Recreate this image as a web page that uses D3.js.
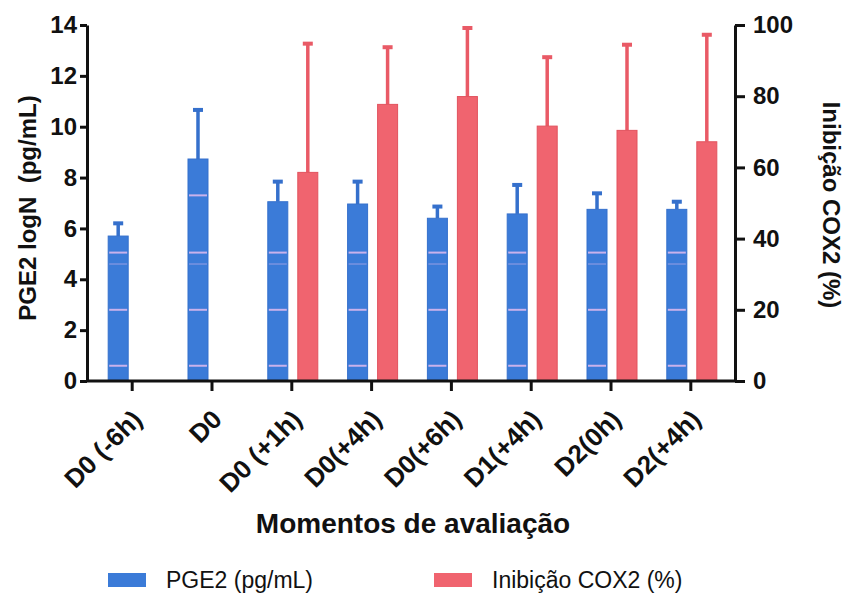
<!DOCTYPE html>
<html>
<head>
<meta charset="utf-8">
<script src="https://cdn.jsdelivr.net/npm/d3@7"></script>
<style>
  body { margin: 0; background: #fff; }
  text { font-family: "Liberation Sans", Arial, Helvetica, sans-serif; fill: #111; white-space: pre; }
</style>
</head>
<body>
<div id="chart"></div>
<script>
// data
const moments = ["D0 (-6h)", "D0", "D0 (+1h)", "D0(+4h)", "D0(+6h)", "D1(+4h)", "D2(0h)", "D2(+4h)"]
const pge2Mean = [5.70, 8.73, 7.05, 6.96, 6.40, 6.57, 6.75, 6.75]
const pge2Err  = [0.52, 1.95, 0.81, 0.90, 0.48, 1.16, 0.65, 0.32]
const coxMean  = [null, null, 58.6, 77.7, 79.9, 71.6, 70.4, 67.2]
const coxErr   = [null, null, 36.3, 16.2, 19.4, 19.5, 24.2, 30.2]
const leftTicks = [0, 2, 4, 6, 8, 10, 12, 14]
const rightTicks = [0, 20, 40, 60, 80, 100]
const series = ["PGE2 (pg/mL)", "Inibição COX2 (%)"]
// faint scan stripes seen on the blue bars (left axis units)
const stripes = [0.6, 2.8, 4.6, 5.05, 7.3]

const width = 844
const height = 595
const blue = "#3b7bd8"
const red = "#f0646f"

const svg = d3.select("#chart").append("svg")
  .attr("width", width)
  .attr("height", height)

const plot = {left: 87, right: 735, top: 25, bottom: 381}

const x = d3.scalePoint().domain(moments).range([plot.left, plot.right]).padding(0.56)
const x1 = d3.scaleBand().domain(series).range([-23.5, 26.5]).paddingInner(1/3)
const yL = d3.scaleLinear().domain([0, 14]).range([plot.bottom, plot.top])
const yR = d3.scaleLinear().domain([0, 100]).range([plot.bottom, plot.top])
const color = d3.scaleOrdinal().domain(series).range([blue, red])

const rows = moments.map((m, i) => ({m, pm: pge2Mean[i], pe: pge2Err[i], cm: coxMean[i], ce: coxErr[i]}))

// error bars first (behind bars)
function errBar(g, cx, yTop, yBase, col) {
  g.append("line").attr("x1", cx).attr("x2", cx).attr("y1", yTop).attr("y2", yBase)
    .attr("stroke", col).attr("stroke-width", 3.5)
  g.append("rect").attr("x", cx - 5).attr("y", yTop - 1.5).attr("width", 10).attr("height", 4)
    .attr("fill", col)
}

const eg = svg.append("g")
rows.forEach(d => {
  const bx = x(d.m) + x1(series[0]) + x1.bandwidth() / 2
  errBar(eg, bx, yL(d.pm + d.pe), yL(d.pm), "#3570cc")
  if (d.cm != null) {
    const rx = x(d.m) + x1(series[1]) + x1.bandwidth() / 2
    errBar(eg, rx, yR(d.cm + d.ce), yR(d.cm), "#e95a66")
  }
})

// blue bars
const bars = svg.append("g")
bars.selectAll(".pge2").data(rows).enter().append("rect")
  .attr("class", "pge2")
  .attr("x", d => x(d.m) + x1(series[0]))
  .attr("y", d => yL(d.pm))
  .attr("width", x1.bandwidth())
  .attr("height", d => yL(0) - yL(d.pm))
  .attr("fill", blue)
  .attr("stroke", "#3570cc").attr("stroke-width", 1)

// stripes on blue bars
rows.forEach(d => {
  stripes.filter(s => s < d.pm - 0.2).forEach(s => {
    bars.append("line")
      .attr("x1", x(d.m) + x1(series[0]) + 1)
      .attr("x2", x(d.m) + x1(series[0]) + x1.bandwidth() - 1)
      .attr("y1", yL(s)).attr("y2", yL(s))
      .attr("stroke", "#d9b8ee").attr("stroke-width", s === 4.6 ? 1 : 2)
      .attr("opacity", s === 4.6 ? 0.6 : 0.9)
  })
})

// red bars
bars.selectAll(".cox").data(rows.filter(d => d.cm != null)).enter().append("rect")
  .attr("class", "cox")
  .attr("x", d => x(d.m) + x1(series[1]))
  .attr("y", d => yR(d.cm))
  .attr("width", x1.bandwidth())
  .attr("height", d => yR(0) - yR(d.cm))
  .attr("fill", red)
  .attr("stroke", "#e2535e").attr("stroke-width", 1)

// axes
function styleAxis(g) {
  g.selectAll(".domain").attr("stroke", "#111").attr("stroke-width", 3)
  g.selectAll(".tick line").attr("stroke", "#111").attr("stroke-width", 3)
  g.selectAll(".tick text").attr("font-weight", "bold").attr("font-size", 24).attr("fill", "#111")
}

const axL = svg.append("g").attr("transform", `translate(${plot.left},0)`)
  .call(d3.axisLeft(yL).tickValues(leftTicks).tickSize(7).tickSizeOuter(0).tickPadding(3))
styleAxis(axL)

const axR = svg.append("g").attr("transform", `translate(${plot.right},0)`)
  .call(d3.axisRight(yR).tickValues(rightTicks).tickSize(10).tickSizeOuter(0).tickPadding(8))
styleAxis(axR)

const axB = svg.append("g").attr("transform", `translate(0,${plot.bottom})`)
  .call(d3.axisBottom(x).tickSize(10).tickSizeOuter(0).tickFormat(""))
styleAxis(axB)
axB.select(".domain").attr("d", `M${plot.left},0H${plot.right}`)

// rotated category labels
svg.append("g").selectAll("text").data(moments).enter().append("text")
  .attr("transform", d => `translate(${x(d) + 12},${plot.bottom + 40}) rotate(-45)`)
  .attr("text-anchor", "end")
  .attr("font-weight", "bold")
  .attr("font-size", 26)
  .text(d => d)

// axis titles
svg.append("text")
  .attr("transform", `translate(36,${(plot.top + plot.bottom) / 2 + 5}) rotate(-90)`)
  .attr("text-anchor", "middle")
  .attr("font-weight", "bold")
  .attr("font-size", 24)
  .text("PGE2 logN  (pg/mL)")

svg.append("text")
  .attr("transform", `translate(823,${(plot.top + plot.bottom) / 2 + 2}) rotate(90)`)
  .attr("text-anchor", "middle")
  .attr("font-weight", "bold")
  .attr("font-size", 24)
  .text("Inibição COX2 (%)")

svg.append("text")
  .attr("x", 413).attr("y", 533)
  .attr("text-anchor", "middle")
  .attr("font-weight", "bold")
  .attr("font-size", 28)
  .text("Momentos de avaliação")

// legend
const legendX = [108, 434]
const leg = svg.append("g").selectAll("g").data(series).enter().append("g")
  .attr("transform", (d, i) => `translate(${legendX[i]},580)`)
leg.append("rect").attr("x", 0).attr("y", -7).attr("width", 38).attr("height", 14)
  .attr("fill", d => color(d))
leg.append("text").attr("x", 58).attr("y", 8)
  .attr("font-size", 23)
  .text(d => d)
</script>
</body>
</html>
